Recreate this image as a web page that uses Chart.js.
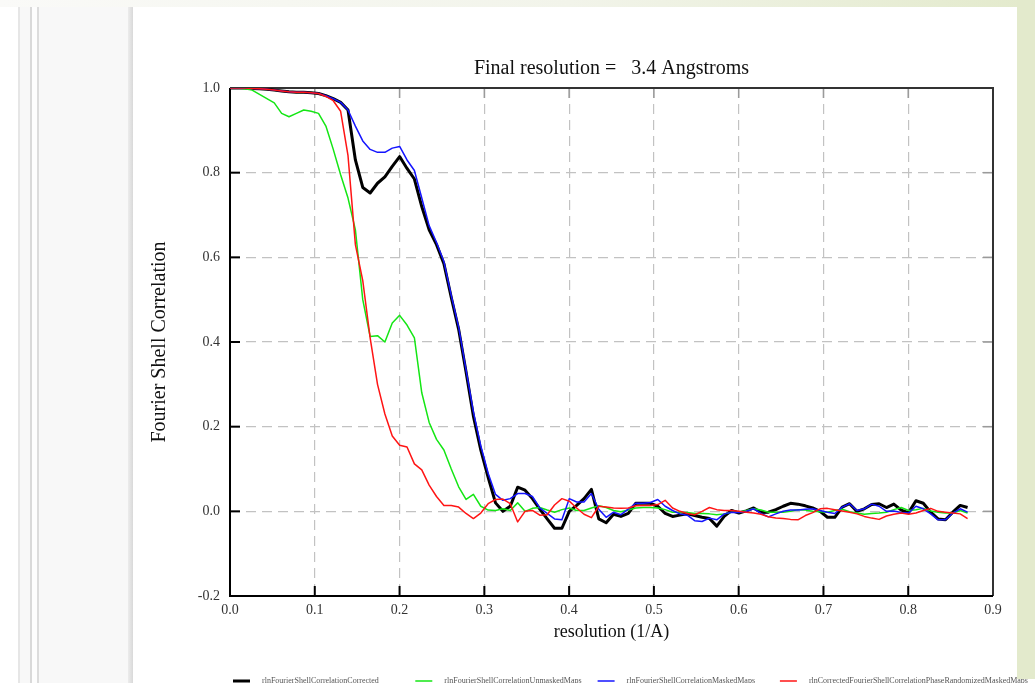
<!DOCTYPE html>
<html>
<head>
<meta charset="utf-8">
<title>Fourier Shell Correlation</title>
<script src="https://cdn.jsdelivr.net/npm/chart.js@4/dist/chart.umd.min.js"></script>
<style>
  html, body { margin: 0; padding: 0; width: 1035px; height: 683px; overflow: hidden; background: #fff; }
  #topband { position: absolute; left: 0; top: 0; width: 1035px; height: 7px; z-index: 3;
    background: linear-gradient(to right, #fafaf8 0%, #f2f4ea 55%, #e3eacc 100%); }
  #rightband { position: absolute; left: 1017px; top: 0; width: 18px; height: 679px; background: #e3eacc; z-index: 3; }
  #sidepanel { position: absolute; left: 18px; top: 7px; width: 115px; height: 676px; background: #f8f8f8; z-index: 1; }
  .rule { position: absolute; top: 0; bottom: 0; }
  #wrap { position: absolute; left: 0; top: 0; width: 1035px; height: 683px; z-index: 2; }
</style>
</head>
<body>
<div id="topband"></div>
<div id="sidepanel">
  <div class="rule" style="left:0;width:2px;background:#e6e6e6"></div>
  <div class="rule" style="left:12px;width:2px;background:#d9d9d9"></div>
  <div class="rule" style="left:14px;width:5px;background:#fdfdfd"></div>
  <div class="rule" style="left:19px;width:2px;background:#dcdcdc"></div>
  <div class="rule" style="left:110px;width:5px;background:linear-gradient(to right,#ececec,#d9d9d9)"></div>
</div>
<div id="rightband"></div>
<div id="wrap"><canvas id="fsc" width="1035" height="683"></canvas></div>

<script>
// Shell spacing in 1/Angstrom; one value per shell in every series below.
const SHELL_STEP = 0.0087;

const TITLE = 'Final resolution =   3.4 Angstroms';
const X_LABEL = 'resolution (1/A)';
const Y_LABEL = 'Fourier Shell Correlation';

const seriesLabels = [
  'rlnFourierShellCorrelationCorrected',
  'rlnFourierShellCorrelationUnmaskedMaps',
  'rlnFourierShellCorrelationMaskedMaps',
  'rlnCorrectedFourierShellCorrelationPhaseRandomizedMaskedMaps'
];

const fscCorrected = [
  1.000, 1.000, 1.000, 0.999, 0.998, 0.997, 0.995, 0.993, 0.991, 0.990,
  0.990, 0.989, 0.987, 0.982, 0.975, 0.966, 0.948, 0.830, 0.765, 0.752,
  0.775, 0.790, 0.815, 0.838, 0.810, 0.785, 0.720, 0.665, 0.630, 0.585,
  0.505, 0.430, 0.330, 0.225, 0.145, 0.080, 0.020, 0.000, 0.012, 0.057,
  0.050, 0.030, 0.005, -0.018, -0.040, -0.040, 0.000, 0.014, 0.030, 0.052,
  -0.018, -0.027, -0.007, -0.012, -0.005, 0.019, 0.019, 0.019, 0.012, -0.005,
  -0.012, -0.009, -0.006, -0.010, -0.014, -0.017, -0.035, -0.012, 0.002, -0.004,
  0.001, 0.008, -0.003, -0.002, 0.004, 0.012, 0.019, 0.017, 0.013, 0.008,
  0.000, -0.014, -0.014, 0.010, 0.018, 0.000, 0.006, 0.016, 0.018, 0.009,
  0.017, 0.003, -0.003, 0.025, 0.019, -0.002, -0.018, -0.020, -0.002, 0.014,
  0.009
];

const fscUnmasked = [
  1.000, 1.000, 0.998, 0.995, 0.985, 0.975, 0.965, 0.940, 0.932, 0.940,
  0.948, 0.945, 0.940, 0.910, 0.855, 0.795, 0.740, 0.665, 0.500, 0.413,
  0.415, 0.400, 0.445, 0.463, 0.440, 0.410, 0.280, 0.210, 0.170, 0.145,
  0.100, 0.058, 0.028, 0.040, 0.012, 0.003, 0.002, 0.006, 0.002, 0.020,
  0.000, 0.007, 0.009, 0.003, -0.002, 0.004, 0.008, 0.002, 0.002, 0.008,
  0.013, 0.009, 0.002, -0.001, 0.003, 0.008, 0.009, 0.009, 0.008, 0.004,
  -0.002, -0.002, -0.003, -0.005, -0.005, -0.006, -0.008, -0.006, -0.002, -0.002,
  0.002, 0.006, 0.003, -0.002, -0.002, -0.002, 0.000, 0.004, 0.003, 0.000,
  -0.001, -0.002, 0.002, 0.005, -0.001, -0.004, -0.007, -0.005, -0.004, -0.002,
  0.004, 0.009, 0.002, 0.004, 0.007, 0.001, -0.002, -0.004, -0.004, 0.002,
  -0.004
];

const fscMasked = [
  1.000, 1.000, 1.000, 0.999, 0.998, 0.997, 0.995, 0.993, 0.991, 0.990,
  0.990, 0.989, 0.987, 0.982, 0.975, 0.966, 0.948, 0.910, 0.875, 0.855,
  0.848, 0.848, 0.858, 0.862, 0.830, 0.805, 0.740, 0.675, 0.635, 0.590,
  0.510, 0.435, 0.335, 0.235, 0.155, 0.090, 0.040, 0.026, 0.030, 0.042,
  0.042, 0.035, 0.008, -0.005, -0.018, -0.020, 0.030, 0.022, 0.022, 0.042,
  0.005, -0.014, -0.002, -0.008, 0.005, 0.019, 0.019, 0.021, 0.028, 0.012,
  0.002, -0.006, -0.009, -0.022, -0.024, -0.016, -0.020, -0.006, -0.002, -0.003,
  0.000, 0.006, -0.005, -0.013, -0.006, 0.000, 0.003, 0.003, 0.005, 0.006,
  0.002, -0.002, -0.005, 0.010, 0.018, 0.002, 0.006, 0.017, 0.012, 0.000,
  0.001, -0.003, -0.004, 0.012, 0.006, -0.006, -0.020, -0.020, -0.004, 0.006,
  -0.002
];

const fscPhaseRandomized = [
  1.000, 1.000, 1.000, 0.999, 0.998, 0.997, 0.995, 0.993, 0.991, 0.990,
  0.990, 0.989, 0.987, 0.980, 0.970, 0.945, 0.840, 0.630, 0.545, 0.410,
  0.300, 0.230, 0.178, 0.156, 0.152, 0.112, 0.098, 0.062, 0.035, 0.014,
  0.014, 0.010, -0.005, -0.017, -0.004, 0.018, 0.028, 0.029, 0.018, -0.025,
  0.000, 0.002, -0.009, -0.008, 0.015, 0.030, 0.024, 0.008, -0.007, -0.015,
  0.012, 0.010, 0.008, 0.007, 0.008, 0.013, 0.014, 0.014, 0.016, 0.026,
  0.008, 0.000, -0.005, -0.008, 0.000, 0.009, 0.004, 0.002, 0.002, 0.000,
  -0.002, -0.004, -0.007, -0.013, -0.016, -0.017, -0.019, -0.020, -0.010, -0.003,
  0.006, 0.007, 0.004, 0.001, -0.002, -0.006, -0.012, -0.016, -0.019, -0.011,
  -0.007, -0.004, -0.007, -0.004, 0.002, 0.007, 0.000, -0.002, -0.004, -0.006,
  -0.017
];

// Shell resolutions (1/A) for the series above.
const resolution = fscCorrected.map((_, i) => +(i * SHELL_STEP).toFixed(4));

const xTicks = [0.0, 0.1, 0.2, 0.3, 0.4, 0.5, 0.6, 0.7, 0.8, 0.9];
const yTicks = [-0.2, 0.0, 0.2, 0.4, 0.6, 0.8, 1.0];

const SERIF = "'Liberation Serif', 'DejaVu Serif', 'Times New Roman', serif";

function points(values) {
  return values.map((v, i) => ({ x: resolution[i], y: v }));
}

// Box frame with inward tick marks (solid on left/bottom, light on top/right).
const frameTicks = {
  id: 'frameTicks',
  beforeDatasetsDraw(chart) {
    const { ctx, chartArea: a, scales: { x, y } } = chart;
    const len = 10;
    ctx.save();
    ctx.lineCap = 'butt';
    ctx.lineWidth = 1.5;
    ctx.strokeStyle = '#9a9a9a';
    xTicks.forEach(t => {
      const px = x.getPixelForValue(t);
      ctx.beginPath(); ctx.moveTo(px, a.top); ctx.lineTo(px, a.top + len); ctx.stroke();
    });
    yTicks.forEach(t => {
      const py = y.getPixelForValue(t);
      ctx.beginPath(); ctx.moveTo(a.right, py); ctx.lineTo(a.right - len, py); ctx.stroke();
    });
    ctx.strokeStyle = '#000';
    ctx.lineWidth = 2;
    xTicks.forEach(t => {
      const px = x.getPixelForValue(t);
      ctx.beginPath(); ctx.moveTo(px, a.bottom); ctx.lineTo(px, a.bottom - len); ctx.stroke();
    });
    yTicks.forEach(t => {
      const py = y.getPixelForValue(t);
      ctx.beginPath(); ctx.moveTo(a.left, py); ctx.lineTo(a.left + len, py); ctx.stroke();
    });
    // top and right edges
    ctx.strokeStyle = '#333';
    ctx.lineWidth = 2;
    ctx.beginPath();
    ctx.moveTo(a.left, a.top); ctx.lineTo(a.right, a.top); ctx.lineTo(a.right, a.bottom);
    ctx.stroke();
    // left and bottom axes
    ctx.strokeStyle = '#000';
    ctx.beginPath();
    ctx.moveTo(a.left, a.top); ctx.lineTo(a.left, a.bottom); ctx.lineTo(a.right, a.bottom);
    ctx.stroke();
    ctx.restore();
  }
};

// Single-row legend under the plot, one fixed-width column per series.
const legendRow = {
  id: 'legendRow',
  afterDraw(chart) {
    const { ctx, chartArea: a } = chart;
    const y = 681;
    ctx.save();
    ctx.font = `8px ${SERIF}`;
    ctx.textBaseline = 'middle';
    ctx.textAlign = 'left';
    chart.data.datasets.forEach((ds, k) => {
      const x0 = a.left + 3 + k * 182.3;
      ctx.strokeStyle = ds.borderColor;
      ctx.lineWidth = ds.borderWidth;
      ctx.beginPath(); ctx.moveTo(x0, y); ctx.lineTo(x0 + 17, y); ctx.stroke();
      ctx.fillStyle = '#555';
      ctx.fillText(ds.label, x0 + 29, y);
    });
    ctx.restore();
  }
};

const tickFont = { family: SERIF, size: 14 };

new Chart(document.getElementById('fsc'), {
  type: 'line',
  data: {
    datasets: [
      { label: seriesLabels[0], data: points(fscCorrected), borderColor: '#000000', borderWidth: 3, order: 4 },
      { label: seriesLabels[1], data: points(fscUnmasked), borderColor: '#14e614', borderWidth: 1.5, order: 3 },
      { label: seriesLabels[2], data: points(fscMasked), borderColor: '#1414ff', borderWidth: 1.5, order: 2 },
      { label: seriesLabels[3], data: points(fscPhaseRandomized), borderColor: '#ff1414', borderWidth: 1.5, order: 1 }
    ]
  },
  options: {
    responsive: false,
    animation: false,
    events: [],
    layout: { padding: { left: 140, right: 42, top: 0, bottom: 37 } },
    elements: {
      point: { radius: 0 },
      line: { tension: 0, borderJoinStyle: 'round', fill: false }
    },
    plugins: {
      legend: { display: false },
      tooltip: { enabled: false },
      title: {
        display: true,
        fullSize: false,
        text: TITLE,
        color: '#111',
        font: { family: SERIF, size: 20, weight: 'normal', lineHeight: 1.2 },
        padding: { top: 57, bottom: 7 }
      }
    },
    scales: {
      x: {
        type: 'linear',
        min: 0,
        max: 0.9,
        afterBuildTicks: s => { s.ticks = xTicks.map(v => ({ value: v })); },
        ticks: { font: tickFont, color: '#333', padding: 6, maxRotation: 0, autoSkip: false,
                 callback: v => v.toFixed(1) },
        grid: { color: '#c2c2c2', lineWidth: 1.2, drawTicks: false },
        border: { display: false, dash: [10, 6] },
        title: { display: true, text: X_LABEL, color: '#111',
                 font: { family: SERIF, size: 18, lineHeight: 1.2 }, padding: { top: 0, bottom: 3.2 } },
        afterFit: s => { s.height = 50; }
      },
      y: {
        type: 'linear',
        min: -0.2,
        max: 1.0,
        afterBuildTicks: s => { s.ticks = yTicks.map(v => ({ value: v })); },
        ticks: { font: tickFont, color: '#333', padding: 10, autoSkip: false,
                 callback: v => v.toFixed(1) },
        grid: { color: '#c2c2c2', lineWidth: 1.2, drawTicks: false },
        border: { display: false, dash: [10, 6] },
        title: { display: true, text: Y_LABEL, color: '#111',
                 font: { family: SERIF, size: 20, lineHeight: 1.2 }, padding: { top: 8, bottom: 0 } },
        afterFit: s => { s.width = 90; }
      }
    }
  },
  plugins: [frameTicks, legendRow]
});
</script>
</body>
</html>
